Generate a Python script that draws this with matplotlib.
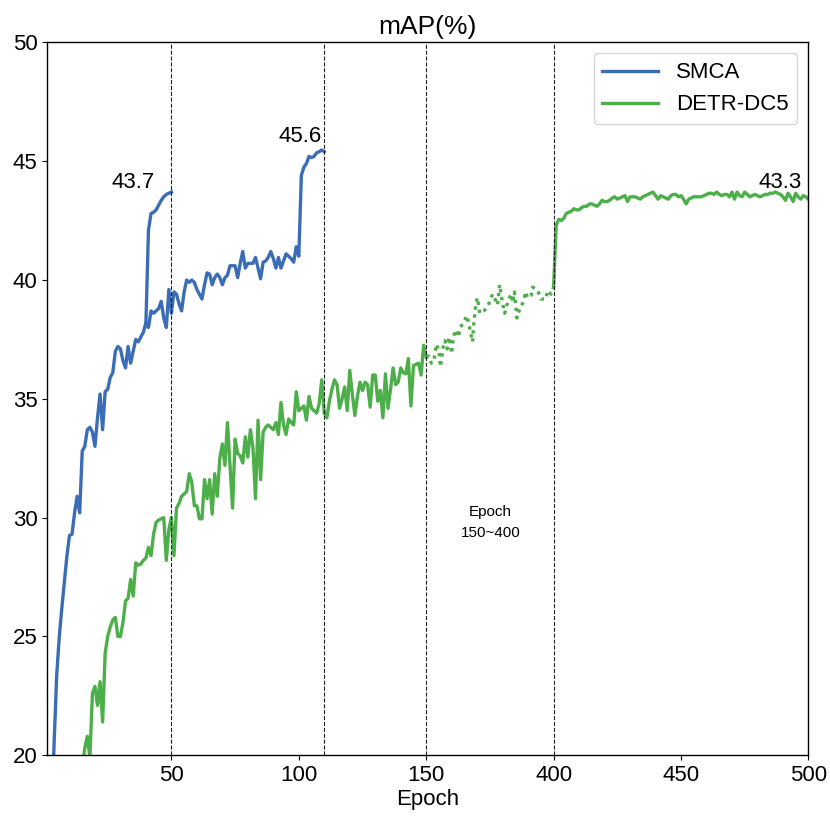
import numpy as np
import matplotlib
matplotlib.use("Agg")
import matplotlib.pyplot as plt

plt.rcParams['font.family'] = ['Liberation Sans', 'DejaVu Sans']

# SMCA, 108-epoch schedule (lr drop at 100), epochs 1..110
smca_long_epochs = np.arange(1, 111)
smca_long = [13.0, 16.5, 17.5, 20.6, 23.4, 25.0, 26.2, 27.3, 28.4, 29.25,
             29.3, 30.2, 30.9, 30.2, 32.8, 33.0, 33.7, 33.8, 33.6, 33.0,
             34.2, 35.2, 33.7, 35.3, 35.4, 35.9, 36.1, 37.0, 37.2, 37.1,
             36.6, 36.3, 37.2, 36.5, 37.0, 37.5, 37.4, 37.6, 37.8, 38.2,
             38.0, 38.7, 38.6, 38.7, 38.8, 39.1, 38.4, 38.0, 39.6, 38.6,
             39.5, 39.4, 39.0, 38.7, 39.5, 40.0, 39.9, 40.0, 39.9, 39.6,
             39.4, 39.2, 39.8, 40.3, 40.25, 39.8, 40.1, 40.25, 40.1, 39.8,
             40.1, 40.2, 40.6, 40.6, 40.6, 40.1, 40.7, 41.2, 40.5, 40.7,
             40.7, 40.7, 40.95, 40.5, 40.05, 40.75, 40.8, 40.95, 41.2, 40.9,
             40.5, 40.95, 40.5, 40.8, 41.1, 41.0, 40.9, 40.75, 41.4, 41.0,
             44.4, 44.75, 44.9, 45.2, 45.15, 45.2, 45.35, 45.4, 45.47, 45.4]

# SMCA, 50-epoch schedule (lr drop at 40), epochs 40..50
smca_short_epochs = np.arange(40, 51)
smca_short = [38.2, 42.1, 42.8, 42.85, 42.95, 43.15, 43.35, 43.5, 43.6, 43.65, 43.7]

# DETR-DC5, epochs 14..150 (solid)
detr_a_epochs = np.arange(14, 151)
detr_a = [18.0, 19.5, 20.3, 20.8, 19.9, 22.6, 22.9, 22.1, 23.1, 21.4,
          24.3, 25.0, 25.4, 25.7, 25.8, 25.0, 25.0, 25.6, 26.5, 26.6,
          27.4, 26.7, 28.1, 28.0, 28.05, 28.2, 28.3, 28.75, 28.4, 29.3,
          29.8, 29.9, 29.95, 30.0, 28.2, 29.5, 30.0, 28.4, 30.4, 30.6,
          30.9, 31.0, 31.1, 31.85, 31.5, 30.5, 30.5, 29.95, 29.95, 31.6,
          30.8, 31.6, 30.15, 31.85, 30.9, 32.5, 33.1, 32.2, 34.0, 32.2,
          30.4, 33.3, 32.7, 32.6, 32.3, 33.4, 32.55, 33.7, 32.95, 30.8,
          34.1, 31.6, 33.6, 33.8, 33.9, 33.8, 33.7, 34.0, 33.5, 34.85,
          33.9, 33.5, 34.15, 34.0, 33.9, 35.3, 34.5, 34.6, 34.7, 34.1,
          35.1, 34.6, 34.5, 34.4, 34.8, 35.8, 34.4, 34.2, 34.9, 35.4,
          35.8, 35.6, 34.6, 35.0, 35.5, 34.5, 36.2, 35.2, 34.3, 35.1,
          35.7, 35.35, 35.7, 35.6, 34.65, 36.0, 36.0, 34.9, 35.35, 34.2,
          36.05, 34.6, 35.4, 36.3, 35.6, 35.7, 36.3, 36.1, 36.05, 36.7,
          34.7, 36.4, 36.45, 36.5, 36.0, 37.25, 36.75]

# DETR-DC5, epochs 150..400 (dotted, compressed section)
detr_b_epochs = [150, 155, 160, 165, 170, 175, 178, 183, 187, 191, 195, 200,
                 203, 208, 213, 217, 224, 230, 234, 238, 241, 243, 247, 250,
                 252, 255, 263, 268, 273, 280, 286, 290, 294, 297, 300, 304,
                 307, 312, 317, 320, 323, 326, 328, 333, 341, 345, 349, 356,
                 359, 365, 369, 375, 385, 388, 395, 400]
detr_b = [36.75, 36.8, 36.5, 36.6, 37.3, 37.0, 36.35, 37.15, 37.45, 37.1, 37.6, 36.9,
          37.6, 37.9, 37.6, 38.0, 38.25, 38.5, 38.1, 37.7, 37.4, 38.1, 38.9, 39.25,
          39.05, 38.6, 38.7, 38.8, 39.0, 39.4, 39.15, 38.95, 39.8, 39.4, 39.0, 38.6,
          38.85, 39.2, 39.4, 39.05, 39.5, 38.85, 38.4, 38.75, 39.1, 39.5, 39.25, 39.35,
          39.7, 39.6, 39.55, 39.2, 39.2, 39.55, 39.4, 39.7]

# DETR-DC5, epochs 400..500 (solid)
detr_c_epochs = np.arange(400, 501)
detr_c = [39.7, 42.3, 42.55, 42.5, 42.6, 42.8, 42.85, 42.9, 43.0, 42.95,
          42.95, 43.05, 43.1, 43.1, 43.2, 43.2, 43.15, 43.1, 43.2, 43.35,
          43.3, 43.3, 43.35, 43.45, 43.5, 43.4, 43.45, 43.5, 43.55, 43.3,
          43.5, 43.5, 43.5, 43.45, 43.4, 43.5, 43.55, 43.6, 43.65, 43.7,
          43.55, 43.4, 43.55, 43.5, 43.45, 43.4, 43.55, 43.6, 43.6, 43.5,
          43.55, 43.4, 43.2, 43.4, 43.45, 43.5, 43.5, 43.5, 43.5, 43.55,
          43.6, 43.65, 43.65, 43.6, 43.7, 43.6, 43.55, 43.6, 43.6, 43.5,
          43.7, 43.4, 43.7, 43.55, 43.5, 43.7, 43.6, 43.5, 43.55, 43.6,
          43.55, 43.5, 43.55, 43.6, 43.6, 43.65, 43.65, 43.7, 43.65, 43.6,
          43.5, 43.35, 43.65, 43.5, 43.3, 43.65, 43.5, 43.4, 43.55, 43.5,
          43.4]

xtick_epochs = [50, 100, 150, 400, 450, 500]
vline_epochs = [50, 110, 150, 400]
blue = '#3a6db5'
green = '#4daf4a'


def squash(e):
    # epochs 150..400 shown at 1/5 width
    e = np.asarray(e, dtype=float)
    return np.where(e <= 150, e, np.where(e <= 400, 150 + (e - 150) * 0.2, e - 200))


fig = plt.figure(figsize=(8.3, 8.3), dpi=100)
ax = fig.add_axes([0.057, 0.090, 0.917, 0.859])

ax.plot(squash(smca_long_epochs), smca_long, color=blue, lw=2.4, label='SMCA')
ax.plot(squash(smca_short_epochs), smca_short, color=blue, lw=2.4)
ax.plot(squash(detr_a_epochs), detr_a, color=green, lw=2.4, label='DETR-DC5')
ax.plot(squash(detr_b_epochs), detr_b, color=green, lw=2.4, ls=(0, (1, 1.4)))
ax.plot(squash(detr_c_epochs), detr_c, color=green, lw=2.4)

for v in vline_epochs:
    ax.axvline(squash(v), color='#222222', ls='--', lw=0.8)

ax.text(35, 44.1, '43.7', fontsize=16, ha='center', va='center')
ax.text(100.6, 46.05, '45.6', fontsize=16, ha='center', va='center')
ax.text(squash(489), 44.1, '43.3', fontsize=16, ha='center', va='center')
ax.text(175.2, 29.8, 'Epoch\n150~400', fontsize=11, ha='center', va='center',
        linespacing=1.6)

ax.set_xlim(1.3, 300)
ax.set_ylim(20, 50)
ax.set_xticks(squash(xtick_epochs))
ax.set_xticklabels([str(e) for e in xtick_epochs])
ax.set_yticks([20, 25, 30, 35, 40, 45, 50])
ax.tick_params(labelsize=16)
ax.set_xlabel('Epoch', fontsize=16, labelpad=2)
ax.set_title('mAP(%)', fontsize=19, pad=6)
for s in ax.spines.values():
    s.set_linewidth(1.0)
ax.legend(loc='upper right', fontsize=16, handlelength=2.5)

fig.savefig('out.png', dpi=100)
